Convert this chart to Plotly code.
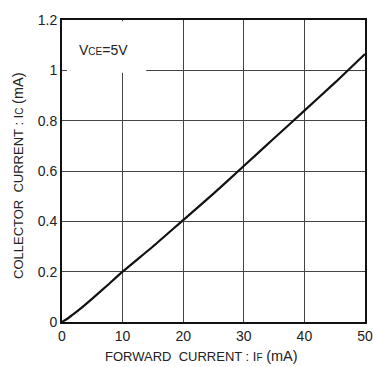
import plotly.graph_objects as go

# Data
forward_current = [0, 1, 2, 3, 5, 7.5, 10, 15, 20, 25, 30, 35, 40, 45, 50]
collector_current = [0, 0.015, 0.033, 0.052, 0.093, 0.146, 0.2, 0.3, 0.405, 0.51, 0.62, 0.73, 0.84, 0.95, 1.065]
x_ticks = [0, 10, 20, 30, 40, 50]
y_ticks = [0, 0.2, 0.4, 0.6, 0.8, 1, 1.2]
y_ticklabels = ["0", "0.2", "0.4", "0.6", "0.8", "1", "1.2"]

FONT = "Liberation Sans, Arial, sans-serif"
TXT = "#222"

fig = go.Figure()
fig.add_trace(go.Scatter(
    x=forward_current, y=collector_current, mode="lines",
    line=dict(color="#111111", width=2.2, shape="spline", smoothing=0.6),
    showlegend=False, hoverinfo="skip",
))

# white box behind the VCE label, covering the grid
fig.add_shape(type="rect", xref="x", yref="y", x0=0.3, x1=13.9, y0=0.99, y1=1.195,
              fillcolor="white", line=dict(width=0), layer="between")

fig.add_annotation(
    xref="x", yref="y", x=2.5, y=1.08, xanchor="left", yanchor="middle",
    text="V<span style='font-size:10px'>CE</span>=5V",
    showarrow=False, font=dict(family=FONT, size=14, color=TXT),
)

# axis titles
fig.add_annotation(
    xref="paper", yref="paper", x=(201 - 62) / 303, y=-(356 - 322) / 302,
    xanchor="center", yanchor="middle", showarrow=False,
    text="FORWARD  CURRENT : I<span style='font-size:10px'>F</span> <span style='font-size:14.5px'>(mA)</span>",
    font=dict(family=FONT, size=13, color=TXT),
)
fig.add_annotation(
    xref="paper", yref="paper", x=-(62 - 18) / 303, y=(322 - 176) / 302,
    xanchor="center", yanchor="middle", showarrow=False, textangle=-90,
    text="COLLECTOR  CURRENT : I<span style='font-size:10px'>C</span> <span style='font-size:14.5px'>(mA)</span>",
    font=dict(family=FONT, size=13, color=TXT),
)

axis_common = dict(
    showline=True, linecolor="#111", linewidth=2, mirror=True,
    showgrid=True, gridcolor="#444", gridwidth=1,
    ticks="inside", ticklen=5, tickcolor="#444", tickwidth=1,
    zeroline=False, automargin=False,
    tickfont=dict(family=FONT, size=14, color=TXT),
)

fig.update_xaxes(range=[0, 50], tickvals=x_ticks, ticktext=[str(v) for v in x_ticks],
                 **axis_common)
fig.update_yaxes(range=[0, 1.2], tickvals=y_ticks, ticktext=y_ticklabels,
                 **axis_common)

fig.update_layout(
    width=373, height=367,
    margin=dict(l=62, r=8, t=20, b=45),
    paper_bgcolor="white", plot_bgcolor="white",
    font=dict(family=FONT),
)

fig.write_html("out.html")
